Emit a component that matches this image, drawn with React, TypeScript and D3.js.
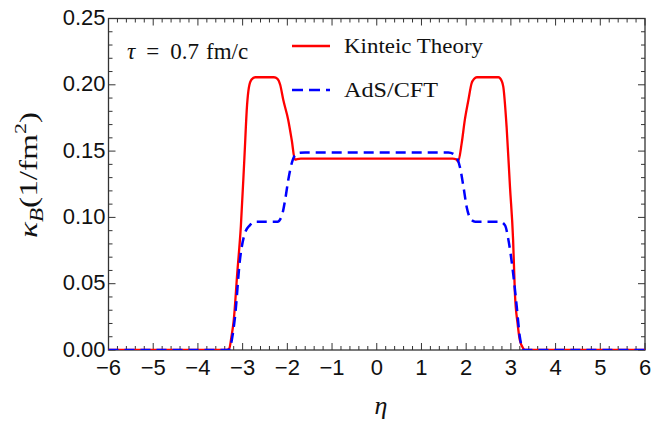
import React from "react";
import * as d3 from "d3";

const etaKinetic = [-6, -3.36, -3.3, -3.25, -3.2, -3.12, -3.04, -2.96, -2.9, -2.86, -2.8, -2.72, -2.3, -2.22, -2.16, -2.09, -1.98, -1.9, -1.83, -1.78, -1.7, 1.7, 1.78, 1.82, 1.9, 1.97, 2.05, 2.12, 2.18, 2.24, 2.72, 2.8, 2.83, 2.905, 2.98, 3.05, 3.09, 3.15, 3.2, 3.28, 3.32, 6];
const kappaKinetic = [0, 0, 0.001, 0.01, 0.022, 0.058, 0.093, 0.145, 0.185, 0.198, 0.204, 0.2057, 0.2057, 0.2045, 0.2, 0.1885, 0.1735, 0.158, 0.1435, 0.144, 0.1443, 0.1443, 0.1438, 0.142, 0.156, 0.1735, 0.1885, 0.201, 0.2045, 0.2057, 0.2057, 0.2025, 0.1986, 0.168, 0.123, 0.083, 0.043, 0.02, 0.0075, 0.001, 0, 0];

const etaAdS = [-6, -3.32, -3.28, -3.22, -3.17, -3.06, -2.95, -2.84, -2.72, -2.22, -2.13, -2.05, -1.98, -1.9, -1.83, -1.72, -1.6, 1.6, 1.75, 1.86, 1.94, 2.01, 2.12, 2.2, 2.76, 2.87, 2.94, 3.05, 3.13, 3.2, 3.25, 3.3, 6];
const kappaAdS = [0, 0, 0.002, 0.012, 0.025, 0.068, 0.088, 0.094, 0.0968, 0.0968, 0.1005, 0.113, 0.128, 0.141, 0.147, 0.1488, 0.149, 0.149, 0.147, 0.138, 0.123, 0.108, 0.098, 0.0968, 0.0968, 0.094, 0.084, 0.058, 0.033, 0.01, 0.002, 0, 0];

const xTicks = [-6, -5, -4, -3, -2, -1, 0, 1, 2, 3, 4, 5, 6];
const yTicks = [0, 0.05, 0.1, 0.15, 0.2, 0.25];
const seriesNames = ["Kinteic Theory", "AdS/CFT"];

const W = 663, H = 424;
const L = 108.5, R = 645, T = 18.5, B = 350;

export default function App() {
  const x = d3.scaleLinear().domain([-6, 6]).range([L, R]);
  const y = d3.scaleLinear().domain([0, 0.25]).range([B, T]);
  const line = d3.line<[number, number]>().x(d => x(d[0])).y(d => y(d[1])).curve(d3.curveMonotoneX);
  const kin = line(etaKinetic.map((e, i) => [e, kappaKinetic[i]] as [number, number])) || "";
  const ads = line(etaAdS.map((e, i) => [e, kappaAdS[i]] as [number, number])) || "";

  const xMinor = d3.range(-6, 6.0001, 0.2).filter(v => Math.abs(v - Math.round(v)) > 1e-6);
  const yMinor = d3.range(0, 0.25001, 0.01).filter(v => Math.abs(v / 0.05 - Math.round(v / 0.05)) > 1e-6);
  const axisColor = "#333";
  const maj = 7, min = 4;
  const fmt = (v: number) => (v < 0 ? "\u2212" + Math.abs(v) : String(v));
  const serif = "'Liberation Serif', 'DejaVu Serif', serif";

  return (
    <svg width={W} height={H} style={{ position: "absolute", left: 0, top: 0, background: "#fff" }}>
      <defs>
        <clipPath id="plot"><rect x={L} y={T - 5} width={R - L} height={B - T + 5} /></clipPath>
      </defs>
      <g stroke={axisColor} strokeWidth={1}>
        {xTicks.map(v => (
          <g key={"xt" + v}>
            <line x1={x(v)} x2={x(v)} y1={B} y2={B - maj} />
            <line x1={x(v)} x2={x(v)} y1={T} y2={T + maj} />
          </g>
        ))}
        {xMinor.map(v => (
          <g key={"xm" + v}>
            <line x1={x(v)} x2={x(v)} y1={B} y2={B - min} />
            <line x1={x(v)} x2={x(v)} y1={T} y2={T + min} />
          </g>
        ))}
        {yTicks.map(v => (
          <g key={"yt" + v}>
            <line x1={L} x2={L + maj} y1={y(v)} y2={y(v)} />
            <line x1={R} x2={R - maj} y1={y(v)} y2={y(v)} />
          </g>
        ))}
        {yMinor.map(v => (
          <g key={"ym" + v}>
            <line x1={L} x2={L + min} y1={y(v)} y2={y(v)} />
            <line x1={R} x2={R - min} y1={y(v)} y2={y(v)} />
          </g>
        ))}
      </g>
      <rect x={L} y={T} width={R - L} height={B - T} fill="none" stroke={axisColor} strokeWidth={1.3} />
      <g fontFamily="'Liberation Sans', Arial, sans-serif" fontSize={22} fill="#111">
        {xTicks.map(v => (
          <text key={"xl" + v} x={x(v)} y={B + 25} textAnchor="middle">{fmt(v)}</text>
        ))}
        {yTicks.map(v => (
          <text key={"yl" + v} x={L - 3} y={y(v) + 6.5} textAnchor="end">{v.toFixed(2)}</text>
        ))}
      </g>
      <g clipPath="url(#plot)" fill="none">
        <path d={kin} stroke="#ff0000" strokeWidth={2.3} />
        <path d={ads} stroke="#0000ff" strokeWidth={2.5} strokeDasharray="10,6" />
      </g>
      <g fontFamily={serif} fontSize={22} fill="#111">
        <line x1={292} x2={330} y1={46} y2={46} stroke="#ff0000" strokeWidth={2.3} />
        <text x={344} y={53} textLength={139} lengthAdjust="spacingAndGlyphs">{seriesNames[0]}</text>
        <line x1={292} x2={330} y1={90} y2={90} stroke="#0000ff" strokeWidth={2.5} strokeDasharray="11,6" />
        <text x={344} y={97} textLength={94} lengthAdjust="spacingAndGlyphs">{seriesNames[1]}</text>
        <text x={127} y={59} fontSize={23}>
          <tspan fontStyle="italic">τ</tspan>
          <tspan dx={11}>=</tspan>
          <tspan dx={11}>0.7</tspan>
          <tspan dx={7}>fm/c</tspan>
        </text>
      </g>
      <text x={381} y={414} textAnchor="middle" fontFamily={serif} fontSize={26} fontStyle="italic" fill="#111">η</text>
      <text transform="translate(37,175) rotate(-90) scale(1.28,1)" textAnchor="middle" fontFamily={serif} fontSize={26} fill="#111">
        <tspan fontStyle="italic">κ</tspan>
        <tspan fontStyle="italic" fontSize={18} dy={6}>B</tspan>
        <tspan dy={-6}>(1/fm</tspan>
        <tspan fontSize={17} dy={-11}>2</tspan>
        <tspan dy={11}>)</tspan>
      </text>
    </svg>
  );
}
